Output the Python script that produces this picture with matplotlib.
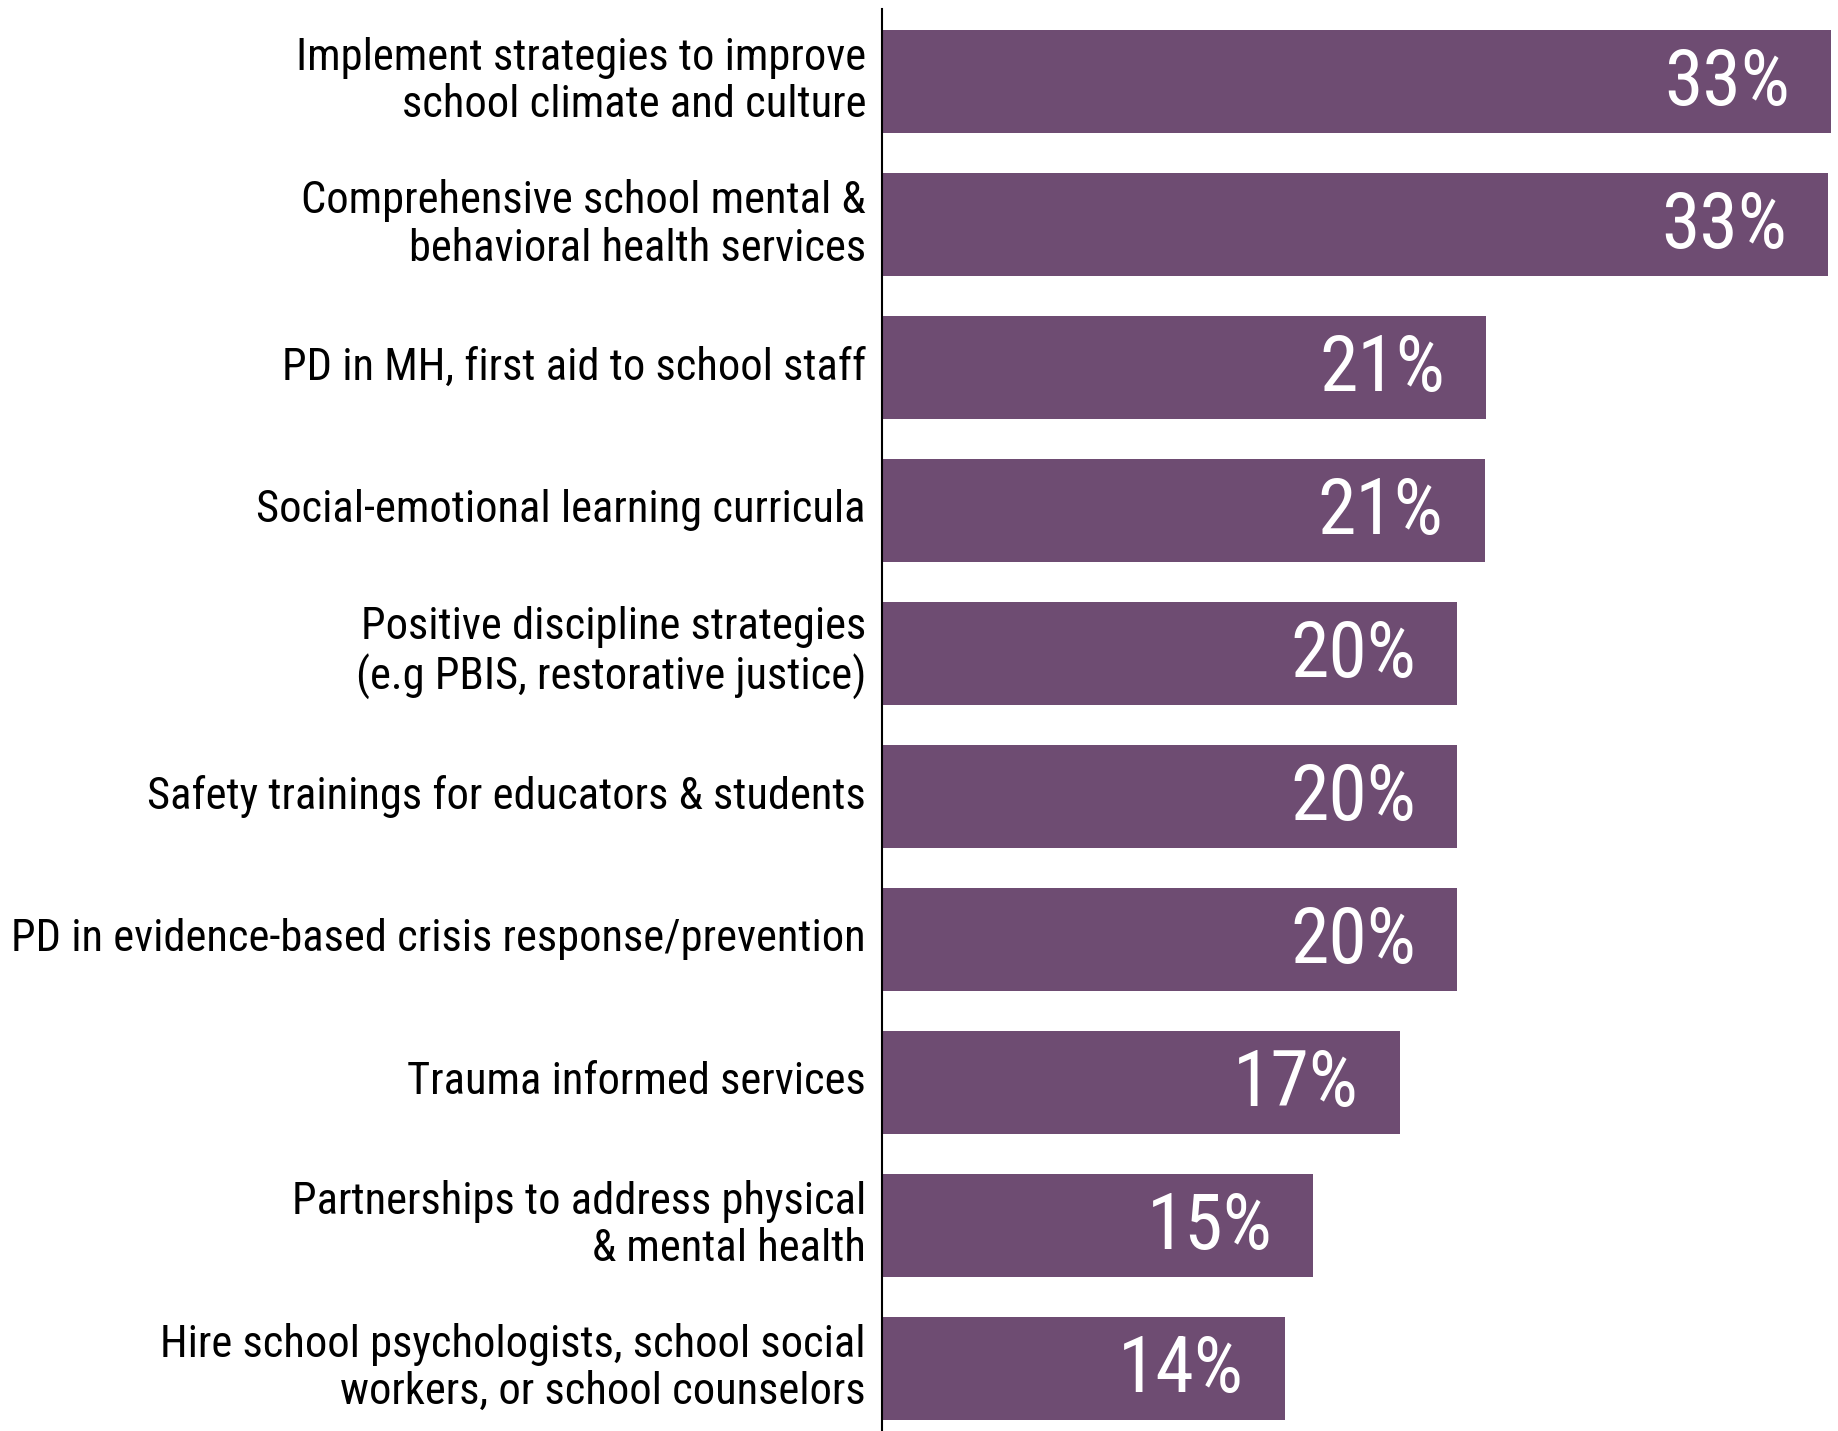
import matplotlib.pyplot as plt
import matplotlib.transforms as mtransforms

plt.rcParams['font.family'] = ['Roboto Condensed', 'Roboto', 'DejaVu Sans']

categories = [
    "Implement strategies to improve\nschool climate and culture",
    "Comprehensive school mental &\nbehavioral health services",
    "PD in MH, first aid to school staff",
    "Social-emotional learning curricula",
    "Positive discipline strategies\n(e.g PBIS, restorative justice)",
    "Safety trainings for educators & students",
    "PD in evidence-based crisis response/prevention",
    "Trauma informed services",
    "Partnerships to address physical\n& mental health",
    "Hire school psychologists, school social\nworkers, or school counselors",
]
# bar lengths
values = [33.0, 32.9, 21.0, 20.95, 20.0, 20.0, 20.0, 18.0, 15.0, 14.0]
value_labels = ["33%", "33%", "21%", "21%", "20%", "20%", "20%", "17%", "15%", "14%"]

bar_color = "#6e4c72"

fig = plt.figure(figsize=(18.38, 14.31), dpi=100)
ax = fig.add_axes([882 / 1838, 0, 1 - 882 / 1838, 1422 / 1431])

ypos = list(range(len(categories)))
ax.barh(ypos, values, height=0.72, color=bar_color, zorder=2)

ax.set_xlim(0, 33.24)
ax.set_ylim(9.44, -0.507)

for sp in ["top", "right", "bottom"]:
    ax.spines[sp].set_visible(False)
ax.spines["left"].set_linewidth(1.5)
ax.spines["left"].set_color("black")
ax.spines["left"].set_zorder(3)
ax.set_xticks([])
ax.set_yticks([])

# category labels to the left of the axis line
trans = mtransforms.blended_transform_factory(ax.transAxes, ax.transData)
trans = trans + mtransforms.ScaledTranslation(-16 / 100, 0, fig.dpi_scale_trans)
for y, lab in zip(ypos, categories):
    ax.text(0, y, lab, transform=trans, ha="right", va="center",
            fontsize=32, linespacing=1.16, color="black")

# value labels inside the bars
for y, v, t in zip(ypos, values, value_labels):
    ax.annotate(t, xy=(v, y), xytext=(-41, -24), textcoords="offset pixels",
                ha="right", va="baseline", fontsize=56, color="white")

fig.savefig("out.png", dpi=100)
